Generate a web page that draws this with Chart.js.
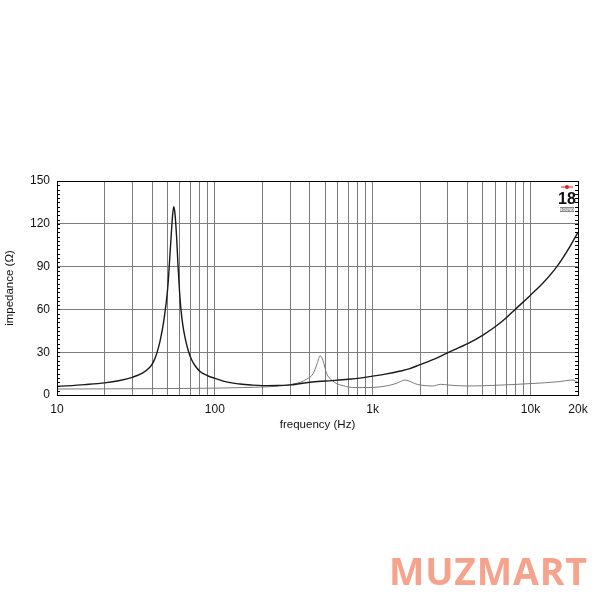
<!DOCTYPE html>
<html>
<head>
<meta charset="utf-8">
<script src="https://cdn.jsdelivr.net/npm/chart.js@4/dist/chart.umd.min.js"></script>
<style>
  html, body { margin: 0; padding: 0; background: #fff; }
  #wrap { position: absolute; left: 0; top: 0; width: 600px; height: 600px; }
  #brand {
    position: absolute; left: 389px; top: 547px;
    font-family: "Open Sans", sans-serif; font-weight: 700; font-size: 37.5px;
    color: #f5a38c; letter-spacing: 0.8px; line-height: 48px;
  }
</style>
</head>
<body>
<div id="wrap"><canvas id="chart" width="600" height="600"></canvas></div>
<div id="brand">MUZMART</div>
<script>
// impedance curve of the driver (black)
const driverFreq = [10, 15, 20, 25, 30, 35, 38, 40, 41.7, 42.8, 45, 47.5, 50.3, 52.5, 54, 54.9, 55.8, 57.3, 58.5, 59.8, 61, 62.5, 64.8, 67.9, 71, 75, 80.6, 90, 100, 120, 144, 170, 200, 250, 300, 400, 500, 700, 850, 1000, 1200, 1500, 1700, 2000, 2500, 3000, 4000, 5000, 6000, 7000, 8000, 10000, 12000, 14700, 17000, 20000];
const driverOhm  = [6.0, 7.3, 8.5, 10.2, 12.4, 15.5, 18.5, 21.5, 25.5, 29, 38, 52, 75, 106, 126, 132, 128, 110, 90, 72, 60, 50, 40, 31, 25, 20.5, 16.5, 13.5, 11.7, 9, 7.7, 7.0, 6.6, 6.7, 7.1, 8.9, 9.8, 11, 12, 13.2, 14.6, 16.8, 18.3, 21.3, 25.5, 29.7, 36, 42, 48, 54, 60, 70, 78.5, 90, 100.5, 114];

// second, thinner curve (grey)
const secondFreq = [10, 20, 50, 100, 150, 200, 250, 300, 350, 380, 420, 445, 465, 485, 511, 550, 591, 650, 700, 800, 1000, 1200, 1420, 1600, 1700, 1850, 2000, 2400, 2700, 3000, 4000, 6000, 10000, 15000, 18500, 20000];
const secondOhm  = [4.2, 4.3, 4.5, 4.8, 5.2, 5.6, 6.2, 7.2, 9, 11, 15, 22, 27.6, 24, 15, 10.5, 8, 6.5, 5.6, 5.2, 5.3, 6.2, 8.2, 10.5, 9.8, 8, 7, 6.3, 7.5, 7, 6.3, 6.8, 8.0, 9.3, 10.5, 8.8];

const xGridTicks = [10, 20, 30, 40, 50, 60, 70, 80, 90, 100, 200, 300, 400, 500, 600, 700, 800, 900, 1000, 2000, 3000, 4000, 5000, 6000, 7000, 8000, 9000, 10000, 20000];
const xTickLabels = { 10: "10", 100: "100", 1000: "1k", 10000: "10k", 20000: "20k" };

const font = "'Liberation Sans', Arial, sans-serif";
const gridGrey = "#7c7c7c";

// frame, minor ticks along both y edges and the 18 Sound mark
const framePlugin = {
  id: "frame",
  afterDatasetsDraw(chart) {
    const { ctx, chartArea: a, scales } = chart;
    const y = scales.y;
    ctx.save();
    ctx.strokeStyle = "#000";
    ctx.lineWidth = 1;
    ctx.strokeRect(Math.round(a.left) + 0.5, Math.round(a.top) + 0.5, Math.round(a.right - a.left), Math.round(a.bottom - a.top));
    ctx.beginPath();
    for (let v = 0; v <= 150; v += 3) {
      const py = Math.round(y.getPixelForValue(v)) + 0.5;
      ctx.moveTo(a.left, py); ctx.lineTo(a.left + 3, py);
      ctx.moveTo(a.right, py); ctx.lineTo(a.right - 3, py);
    }
    ctx.stroke();

    // logo
    const lx = a.right - 11;
    ctx.fillStyle = "#e0201c";
    ctx.beginPath();
    ctx.arc(lx, a.top + 6, 2, 0, Math.PI * 2);
    ctx.fill();
    ctx.fillRect(lx - 6, a.top + 5.5, 12, 1);
    ctx.fillStyle = "#111";
    ctx.font = "bold 16px 'Liberation Sans Narrow', 'Liberation Sans', sans-serif";
    ctx.textAlign = "center";
    ctx.textBaseline = "alphabetic";
    ctx.fillText("18", lx, a.top + 23);
    ctx.fillStyle = "#888";
    ctx.fillRect(lx - 7, a.top + 26, 14, 5);
    ctx.fillStyle = "#fff";
    ctx.font = "bold 4px 'Liberation Sans', sans-serif";
    ctx.fillText("SOUND", lx, a.top + 30);
    ctx.restore();
  }
};

new Chart(document.getElementById("chart"), {
  type: "line",
  data: {
    datasets: [
      {
        label: "driver",
        data: driverFreq.map((f, i) => ({ x: f, y: driverOhm[i] })),
        borderColor: "#1a1a1a",
        borderWidth: 1.4,
        pointRadius: 0,
        cubicInterpolationMode: "monotone",
        fill: false,
      },
      {
        label: "second",
        data: secondFreq.map((f, i) => ({ x: f, y: secondOhm[i] })),
        borderColor: "#7a7a7a",
        borderWidth: 1,
        pointRadius: 0,
        cubicInterpolationMode: "monotone",
        fill: false,
      },
    ],
  },
  options: {
    responsive: false,
    animation: false,
    layout: { padding: { top: 181, right: 22, bottom: 168, left: 3 } },
    plugins: { legend: { display: false }, tooltip: { enabled: false } },
    scales: {
      x: {
        type: "logarithmic",
        min: 10,
        max: 20000,
        afterBuildTicks: (s) => { s.ticks = xGridTicks.map((v) => ({ value: v })); },
        afterFit: (s) => { s.height = 37; },
        grid: { color: gridGrey, lineWidth: 1, drawTicks: false },
        border: { color: "#000" },
        ticks: {
          autoSkip: false,
          maxRotation: 0,
          padding: 7,
          color: "#111",
          font: { family: font, size: 12 },
          callback: (v) => xTickLabels[v] || "",
        },
        title: {
          display: true,
          text: "frequency (Hz)",
          color: "#111",
          padding: { top: 0, bottom: 0 },
          font: { family: font, size: 11.5 },
        },
      },
      y: {
        min: 0,
        max: 150,
        afterFit: (s) => { s.width = 54; },
        grid: { color: gridGrey, lineWidth: 1, drawTicks: false },
        border: { color: "#000" },
        ticks: {
          stepSize: 30,
          padding: 7,
          color: "#111",
          font: { family: font, size: 12 },
        },
        title: {
          display: true,
          text: "impedance (Ω)",
          color: "#111",
          padding: { top: 0, bottom: 0 },
          font: { family: font, size: 11.5 },
        },
      },
    },
  },
  plugins: [framePlugin],
});
</script>
</body>
</html>
